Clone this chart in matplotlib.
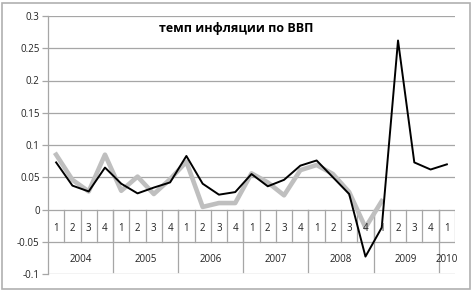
import matplotlib
matplotlib.use("Agg")
import matplotlib.pyplot as plt
from matplotlib.patches import Rectangle

plt.rcParams['font.family'] = ['Open Sans', 'DejaVu Sans']

years = ["2004", "2005", "2006", "2007", "2008", "2009", "2010"]
quarters = ["1", "2", "3", "4"] * 6 + ["1"]
black_series = [0.073, 0.037, 0.028, 0.065, 0.040, 0.025, 0.034, 0.042,
                0.083, 0.040, 0.023, 0.027, 0.055, 0.036, 0.046, 0.068,
                0.076, 0.050, 0.024, -0.073, -0.028, 0.262, 0.073, 0.062, 0.070]
gray_series = [0.085, 0.046, 0.028, 0.085, 0.029, 0.051, 0.024, 0.047,
               0.074, 0.004, 0.010, 0.010, 0.056, 0.042, 0.022, 0.061,
               0.069, 0.055, 0.027, -0.028, 0.013]
yticks = [-0.1, -0.05, 0, 0.05, 0.1, 0.15, 0.2, 0.25, 0.3]
title = "темп инфляции по ВВП"

W, H = 473, 291
fig = plt.figure(figsize=(W / 100, H / 100), dpi=100)
ax = fig.add_axes([48 / W, 1 - 274 / H, (455 - 48) / W, (274 - 16) / H])

n = len(quarters)
x = list(range(n))
grid_c = "#a6a6a6"

for yv in yticks:
    ax.axhline(yv, color=grid_c, lw=0.9, zorder=1)

# category table separators
for k in range(1, n + 1):
    ax.plot([k - 0.5, k - 0.5], [0, -0.05], color=grid_c, lw=0.9, zorder=1)
for k in range(4, n, 4):
    ax.plot([k - 0.5, k - 0.5], [0, -0.097], color=grid_c, lw=0.9, zorder=1)

ax.plot(x, black_series, color="black", lw=1.4, zorder=3)
ax.plot(x[:len(gray_series)], gray_series, color="#bfbfbf", lw=3.3, zorder=2)

for i, q in enumerate(quarters):
    ax.text(i, -0.029, q, ha="center", va="center", fontsize=7, color="#222222")
for j, yr in enumerate(years):
    start = 4 * j
    end = min(4 * j + 3, n - 1)
    ax.text((start + end) / 2, -0.077, yr, ha="center", va="center",
            fontsize=7, color="#222222")

ax.set_xlim(-0.5, n - 0.5)
ax.set_ylim(-0.1, 0.3)
ax.set_yticks(yticks)
ax.set_yticklabels([f"{v:g}" for v in yticks], fontsize=7, color="#222222")
ax.set_xticks([])
ax.tick_params(axis="y", length=4, color=grid_c, width=0.9, pad=2)
for s in ["top", "right", "bottom"]:
    ax.spines[s].set_visible(False)
ax.spines["left"].set_color(grid_c)
ax.spines["left"].set_linewidth(0.9)

ax.text(0.462, 0.975, title, transform=ax.transAxes, ha="center", va="top",
        fontsize=9, fontweight="bold", color="black")

fig.patches.append(Rectangle((2 / W, 2 / H), (W - 5) / W, (H - 5) / H,
                             transform=fig.transFigure, fill=False,
                             edgecolor="#b0b0b0", lw=1.2))

fig.savefig("out.png", dpi=100)
